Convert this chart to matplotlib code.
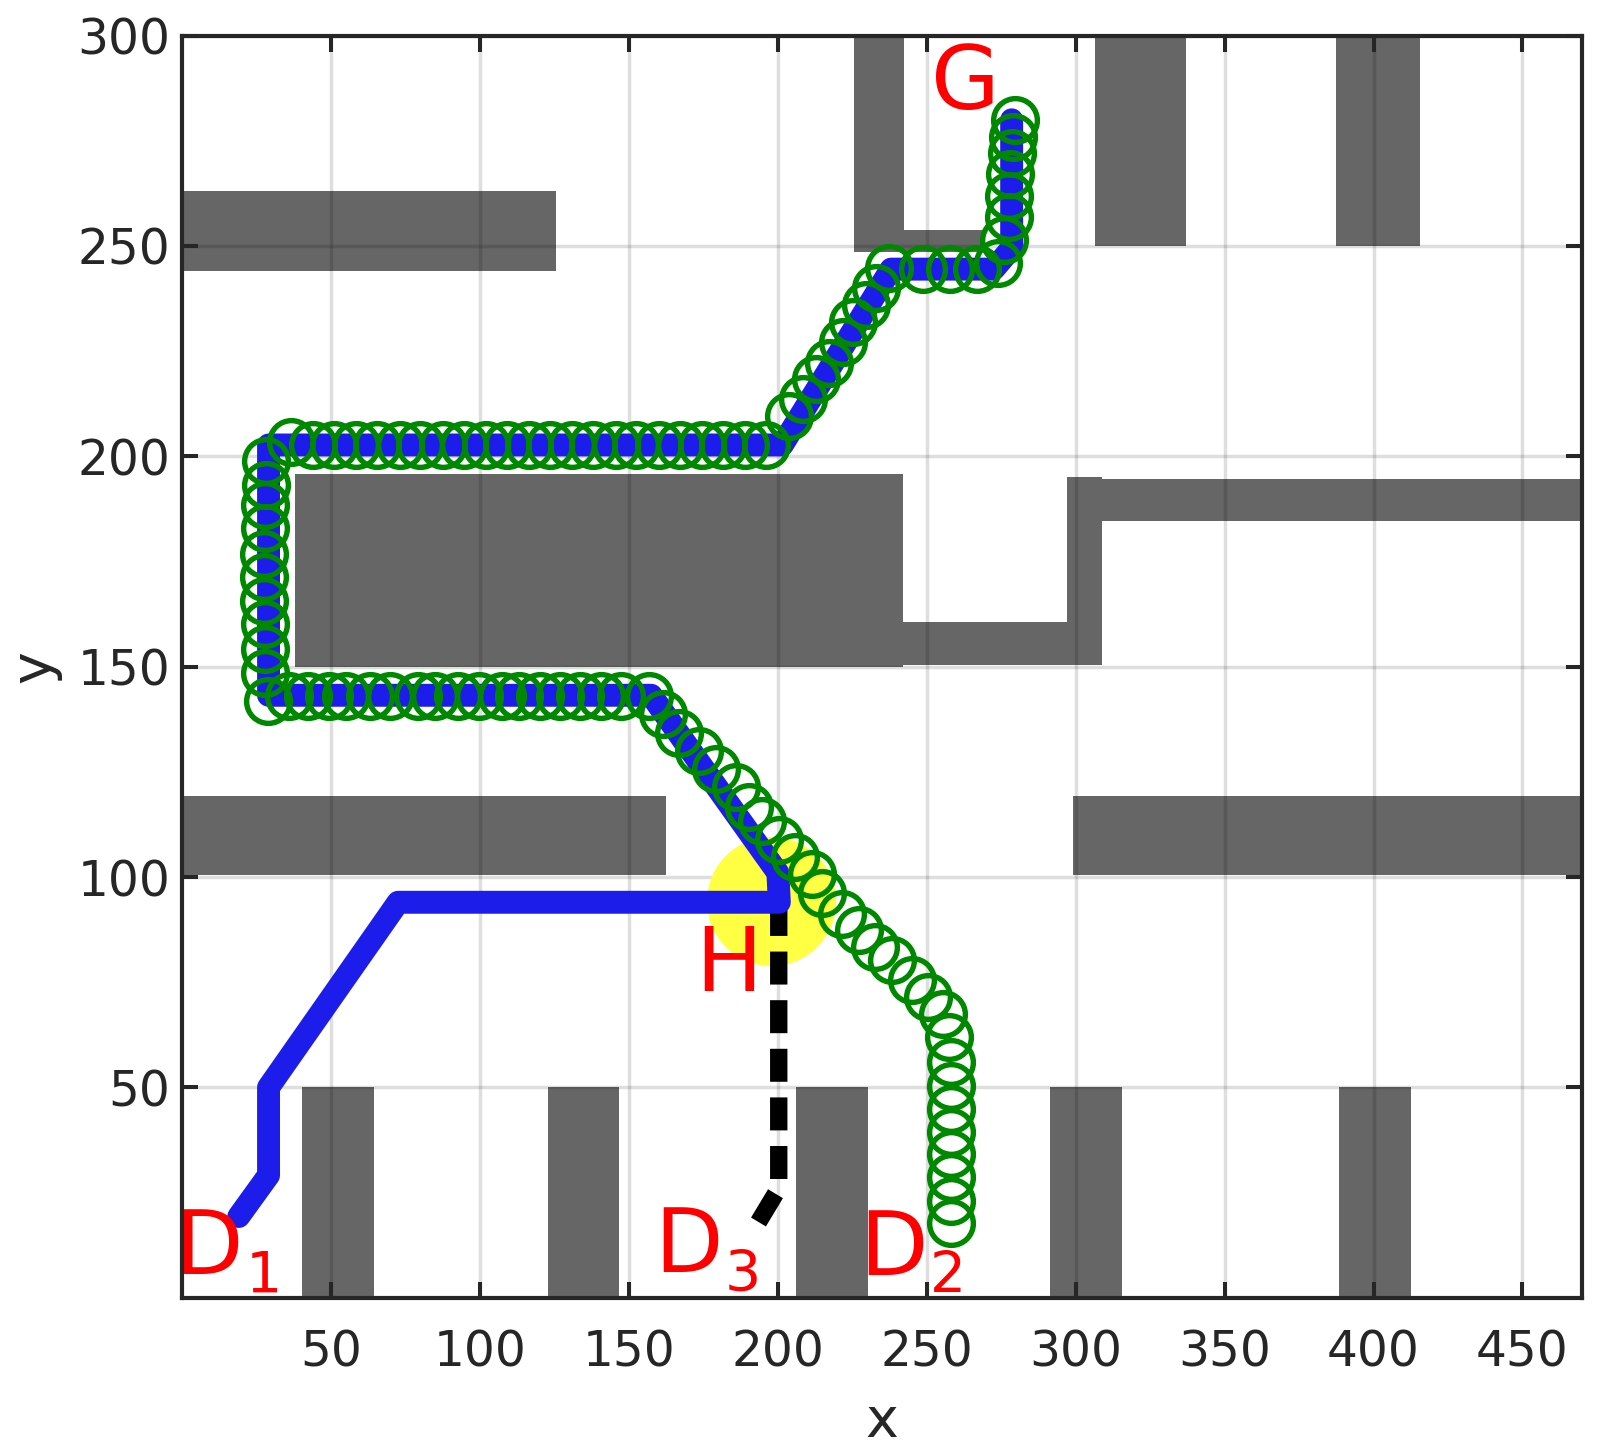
import matplotlib
matplotlib.use('Agg')
import matplotlib.pyplot as plt
from matplotlib.patches import Rectangle

plt.rcParams['font.family'] = ['DejaVu Sans']

# ---------------- data ----------------
# obstacles (rectangles): left, right, bottom, top
obs_left   = [0,     225.4, 225.4, 306.5, 387.5, 38.0,  242.0, 297.0, 297.0, 0,     299.0, 40.3, 122.8, 206.0, 291.5, 388.3]
obs_right  = [125.5, 242.2, 269.0, 337.0, 415.5, 242.0, 297.0, 309.0, 470.0, 162.5, 470.0, 64.3, 146.5, 230.3, 315.5, 412.5]
obs_bottom = [244.0, 248.6, 248.6, 250.0, 250.0, 150.0, 150.5, 150.5, 184.6, 100.4, 100.5, 0,    0,     0,     0,     0]
obs_top    = [263.0, 300.0, 253.7, 300.0, 300.0, 195.8, 160.7, 195.0, 194.6, 119.2, 119.2, 50,   50,    50,    50,    50]

# path of D1 (blue)
d1_x = [19.0, 29.0, 29.0, 72.5, 200.5, 200.0, 157.5, 29.0, 29.0, 201.5, 238.0, 272.5, 278.5, 278.5]
d1_y = [19.3, 29.1, 50.0, 94.0, 94.0, 101.0, 143.2, 143.2, 202.7, 202.7, 244.5, 244.5, 249.5, 280.0]

# path of D3 (black dashed)
d3_x = [193.5, 200.3, 200.3]
d3_y = [18.0, 26.0, 93.0]

# trajectory samples of D2 (green circles)
d2_x = [258.0, 258.0, 258.0, 258.0, 258.0, 258.0, 258.0, 258.0, 257.5,
        255.5, 250.4, 244.9, 238.2, 232.6, 227.1, 221.5, 214.8, 211.5, 205.9,
        200.3, 194.8, 190.3, 185.9, 179.2, 173.6, 166.9, 161.4, 156.9,
        147.4, 140.6, 133.7, 126.9, 120.1, 113.2, 107.4, 99.6, 92.7, 84.8,
        79.1, 69.8, 63.2, 55.1, 49.3, 42.1, 35.7, 28.8,
        27.8, 27.8, 27.8, 27.6, 27.6, 27.6, 27.8, 27.8, 28.0, 28.0,
        36.5, 44.0, 51.0, 58.5, 65.5, 73.0, 80.0, 87.5, 94.5, 102.0, 109.0,
        116.5, 123.5, 131.0, 138.0, 145.5, 152.5, 160.0, 167.0, 174.5, 181.5,
        189.0, 196.0,
        203.9, 208.4, 212.8, 217.3, 221.8, 225.1, 229.6, 232.9, 237.4,
        248.9, 257.8, 266.7, 274.0,
        276.0, 277.5, 277.5, 278.0, 278.5, 279.0, 279.5]
d2_y = [17.7, 23.0, 28.6, 34.2, 39.5, 44.8, 50.4, 56.0, 62.0,
        67.5, 71.6, 75.5, 80.3, 83.4, 87.4, 91.3, 96.1, 100.8, 104.7,
        108.7, 113.4, 116.6, 121.3, 125.7, 130.0, 134.3, 138.7, 143.0,
        143.0, 143.0, 143.0, 143.0, 143.0, 143.0, 143.0, 143.0, 143.0, 143.0,
        143.0, 143.0, 143.0, 143.0, 143.0, 143.0, 143.0, 141.8,
        148.5, 154.1, 160.2, 165.5, 171.3, 176.9, 182.9, 188.5, 193.3, 198.9,
        203.5, 202.7, 202.7, 202.7, 202.7, 202.7, 202.7, 202.7, 202.7, 202.7, 202.7,
        202.7, 202.7, 202.7, 202.7, 202.7, 202.7, 202.7, 202.7, 202.7, 202.7,
        202.7, 202.7,
        209.6, 213.6, 218.3, 222.3, 227.1, 231.9, 235.9, 239.9, 244.7,
        244.5, 244.5, 244.5, 246.0,
        251.5, 257.0, 262.0, 267.0, 272.0, 276.0, 280.0]

# meeting point H (yellow)
h_x = [197.8]
h_y = [94.3]

# labels (main letter + subscript)
label_main = ['D', 'D', 'D', 'G', 'H']
label_sub = ['1', '2', '3', '', '']
label_x = [-2.5, 227.3, 158.4, 251.4, 172.3]
label_y = [5.6, 5.5, 6.0, 282.5, 72.9]

x_ticks = [50, 100, 150, 200, 250, 300, 350, 400, 450]
y_ticks = [50, 100, 150, 200, 250, 300]

# ---------------- plot ----------------
fig = plt.figure(figsize=(15.98, 14.55), dpi=100)
ax = fig.add_axes([0.1140, 0.1081, 0.8760, 0.8674])

for l, r, b, t in zip(obs_left, obs_right, obs_bottom, obs_top):
    ax.add_patch(Rectangle((l, b), r - l, t - b, facecolor='#666666',
                           edgecolor='none', zorder=1))

ax.plot(h_x, h_y, 'o', markersize=93, color='#ffff44', markeredgewidth=0, zorder=3)

ax.plot(d3_x, d3_y, color='black', linewidth=12.5, dashes=(1.9, 0.9),
        dash_capstyle='butt', zorder=4)

ax.plot(d1_x, d1_y, color='#1c1ceb', linewidth=16.5, solid_capstyle='round',
        solid_joinstyle='round', zorder=5)

ax.plot(d2_x, d2_y, 'o', linestyle='none', markersize=31.5, markerfacecolor='none',
        markeredgecolor='#008800', markeredgewidth=3.9, zorder=6)

for m, s, tx, ty in zip(label_main, label_sub, label_x, label_y):
    ax.text(tx, ty, m, color='#ff0000', fontsize=64, ha='left', va='baseline',
            zorder=7, clip_on=False)
    if s:
        ax.annotate(s, xy=(tx, ty), xytext=(51, -13.5), textcoords='offset points',
                    color='#ff0000', fontsize=41, ha='left', va='baseline',
                    zorder=7, annotation_clip=False)

ax.set_xlim(0, 470)
ax.set_ylim(0, 300)
ax.set_xticks(x_ticks)
ax.set_yticks(y_ticks)

ax.grid(True, color='black', alpha=0.13, linewidth=2.5, zorder=2)
ax.set_axisbelow(False)
for gl in ax.get_xgridlines() + ax.get_ygridlines():
    gl.set_zorder(2)

for sp in ax.spines.values():
    sp.set_linewidth(3.0)
    sp.set_color('#262626')
    sp.set_zorder(8)

ax.tick_params(axis='both', which='both', direction='in', length=11.3, width=2.9,
               color='#262626', labelcolor='#262626', labelsize=35,
               top=True, right=True)
ax.tick_params(axis='x', pad=22.4)
ax.tick_params(axis='y', pad=8.4)

ax.set_xlabel('x', fontsize=40, color='#262626')
ax.set_ylabel('y', fontsize=40, color='#262626')
ax.xaxis.set_label_coords(0.5, -0.0771)
ax.yaxis.set_label_coords(-0.0864, 0.5)

fig.savefig('out.png', dpi=100)
